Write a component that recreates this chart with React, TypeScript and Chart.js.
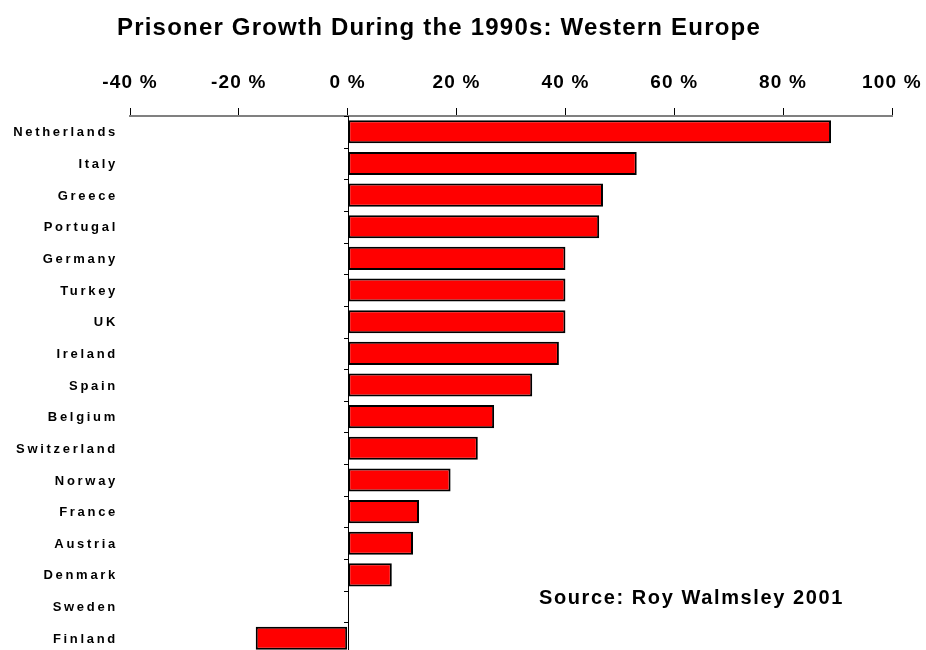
import React, { useEffect, useRef } from "react";
import { Chart, registerables } from "chart.js";

Chart.register(...registerables);

const countries = [
  "Netherlands", "Italy", "Greece", "Portugal", "Germany", "Turkey", "UK", "Ireland",
  "Spain", "Belgium", "Switzerland", "Norway", "France", "Austria", "Denmark", "Sweden", "Finland",
];
const growth = [88.8, 53.1, 46.9, 46.2, 40, 40, 40, 38.8, 33.9, 26.9, 23.9, 18.9, 13.1, 12, 8.1, 0, -16.9];
const xTicks = [-40, -20, 0, 20, 40, 60, 80, 100];
const titleText = "Prisoner Growth During the 1990s: Western Europe";
const sourceText = "Source: Roy Walmsley 2001";

const FONT = '"Liberation Sans", Arial, sans-serif';

const customDraw = {
  id: "customDraw",
  beforeDraw(chart: any) {
    const ctx = chart.ctx;
    (ctx as any).letterSpacing = "1.2px";
  },
  afterDraw(chart: any) {
    const ctx = chart.ctx as any;
    const x = chart.scales.x;
    const y = chart.scales.y;
    const area = chart.chartArea;
    const x0 = x.getPixelForValue(0);
    const band = y.getPixelForValue(1) - y.getPixelForValue(0);
    ctx.save();
    // zero line
    ctx.strokeStyle = "#000";
    ctx.lineWidth = 1;
    ctx.beginPath();
    ctx.moveTo(Math.round(x0) + 0.5, area.top);
    ctx.lineTo(Math.round(x0) + 0.5, area.bottom);
    ctx.stroke();
    // category ticks
    ctx.beginPath();
    for (let i = 0; i <= countries.length; i++) {
      const yy = Math.round(y.getPixelForValue(i) - band / 2) + 0.5;
      ctx.moveTo(Math.round(x0) - 4, yy);
      ctx.lineTo(Math.round(x0) + 1, yy);
    }
    ctx.stroke();
    // category labels
    ctx.fillStyle = "#000";
    ctx.font = `bold 13px ${FONT}`;
    ctx.letterSpacing = "2.7px";
    ctx.textAlign = "right";
    ctx.textBaseline = "middle";
    countries.forEach((c, i) => {
      ctx.fillText(c, area.left - 12, y.getPixelForValue(i) + 1);
    });
    // title
    ctx.font = `bold 24px ${FONT}`;
    ctx.letterSpacing = "1.2px";
    ctx.textAlign = "left";
    ctx.textBaseline = "alphabetic";
    ctx.fillText(titleText, 117, 35);
    // source
    ctx.font = `bold 20px ${FONT}`;
    ctx.letterSpacing = "1.6px";
    ctx.fillText(sourceText, 539, 604);
    ctx.restore();
    ctx.letterSpacing = "0px";
  },
};

export default function App() {
  const ref = useRef<HTMLCanvasElement>(null);
  useEffect(() => {
    if (!ref.current) return;
    const chart = new Chart(ref.current, {
      type: "bar",
      data: {
        labels: countries,
        datasets: [
          {
            data: growth,
            backgroundColor: "#FF0000",
            borderColor: "#000000",
            borderWidth: 2,
            borderSkipped: false,
            categoryPercentage: 0.73,
            barPercentage: 1,
          },
        ],
      },
      options: {
        indexAxis: "y",
        animation: false,
        responsive: false,
        layout: { padding: { top: 56, left: 0, right: 34, bottom: 6 } },
        plugins: {
          legend: { display: false },
          tooltip: { enabled: false },
          title: { display: false },
        },
        scales: {
          x: {
            position: "top",
            min: -40,
            max: 100,
            afterBuildTicks: (scale: any) => {
              scale.ticks = xTicks.map((v) => ({ value: v }));
            },
            afterFit: (scale: any) => {
              scale.height = 60;
              scale.paddingLeft = 0;
              scale.paddingRight = 0;
            },
            grid: {
              drawOnChartArea: false,
              drawTicks: true,
              tickLength: 8,
              color: "#000",
              lineWidth: 1,
            },
            border: { display: true, color: "#808080", width: 2 },
            ticks: {
              padding: 14,
              color: "#000",
              font: { family: FONT, size: 19, weight: "bold" },
              maxRotation: 0,
              autoSkip: false,
              callback: (v: any) => `${v} %`,
            },
          },
          y: {
            position: "left",
            afterFit: (scale: any) => {
              scale.width = 130;
            },
            grid: { display: false },
            border: { display: false },
            ticks: { display: false },
          },
        },
      },
      plugins: [customDraw],
    });
    return () => chart.destroy();
  }, []);
  return (
    <div style={{ position: "absolute", left: 0, top: 0, width: 926, height: 660, background: "#fff" }}>
      <canvas ref={ref} width={926} height={660} style={{ display: "block" }} />
    </div>
  );
}
